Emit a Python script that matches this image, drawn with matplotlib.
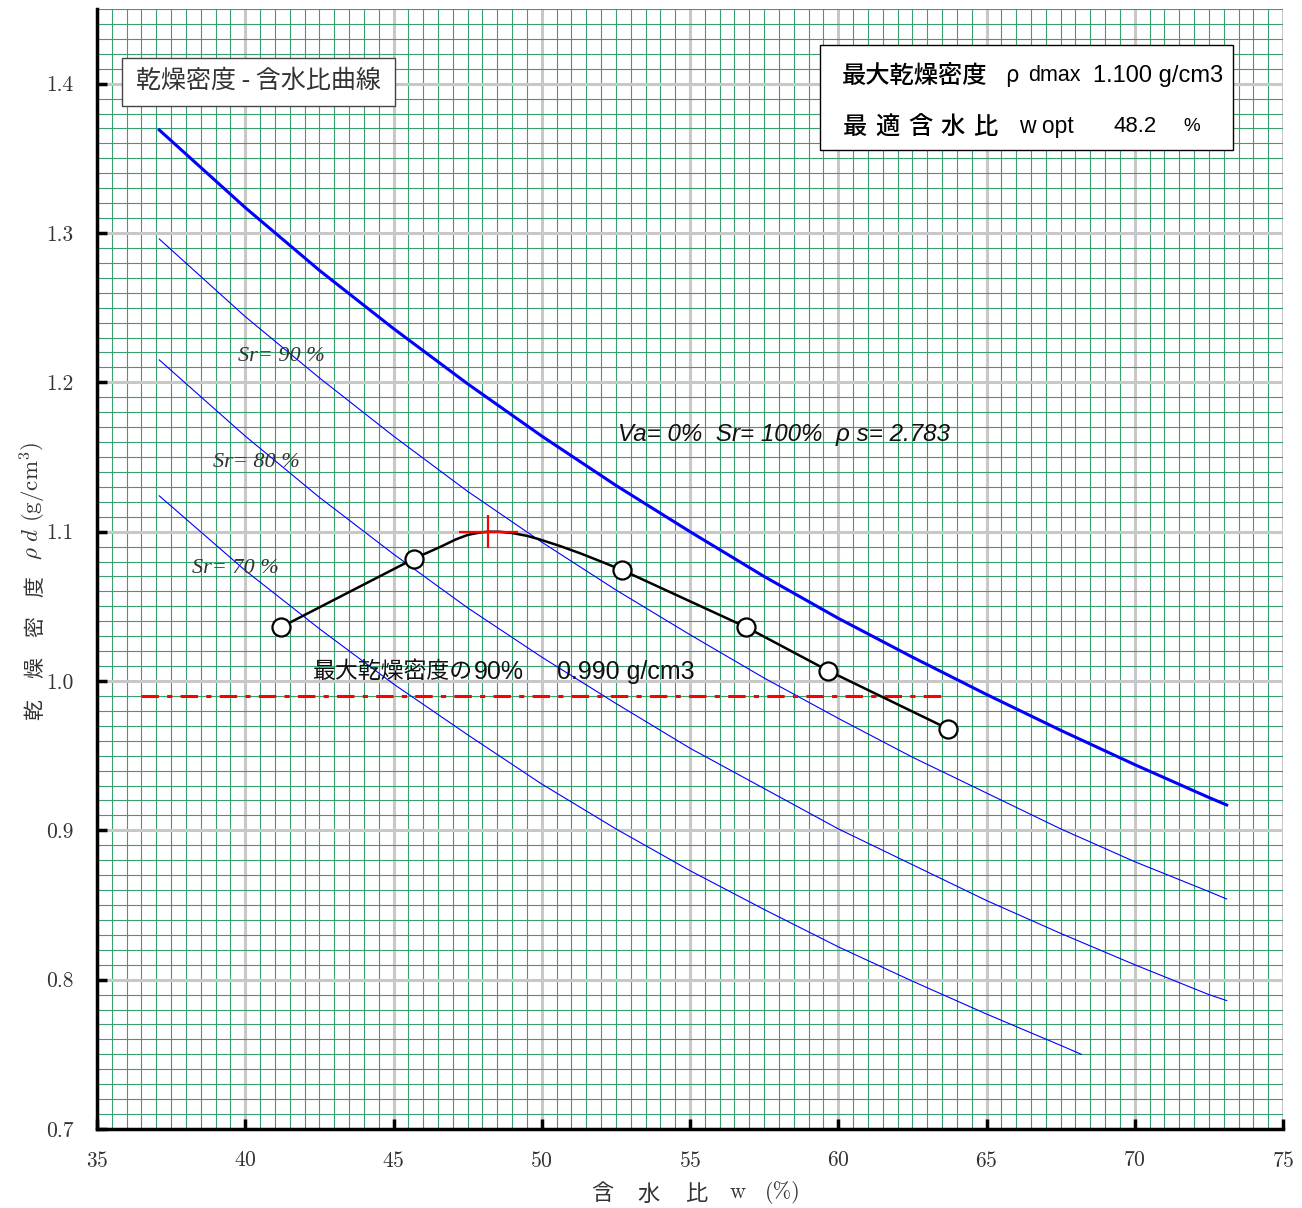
import numpy as np
import matplotlib
matplotlib.use("Agg")
import matplotlib.pyplot as plt
from matplotlib.patches import Rectangle
from matplotlib.ticker import MultipleLocator, FormatStrFormatter

plt.rcParams["font.family"] = "cmr10"
plt.rcParams["mathtext.fontset"] = "cm"
plt.rcParams["axes.formatter.use_mathtext"] = True

CJK = ["Noto Sans CJK JP"]
SANS = ["Liberation Sans", "Noto Sans CJK JP"]

# saturation curves (rho_s = 2.783)
w_sat = [37.1, 40, 42.5, 45, 47.5, 50, 52.5, 55, 57.5, 60, 62.5, 65, 67.5, 70, 72.5, 73.1]
rho_sr100 = [1.369, 1.317, 1.275, 1.236, 1.199, 1.164, 1.131, 1.100, 1.070, 1.042,
             1.016, 0.991, 0.967, 0.944, 0.922, 0.917]
rho_sr90 = [1.296, 1.244, 1.203, 1.164, 1.127, 1.093, 1.061, 1.031, 1.002, 0.975,
            0.949, 0.925, 0.901, 0.879, 0.859, 0.854]
rho_sr80 = [1.215, 1.164, 1.123, 1.085, 1.049, 1.016, 0.985, 0.955, 0.928, 0.901,
            0.877, 0.853, 0.831, 0.810, 0.790, 0.786]
w_sr70 = [37.1, 40, 42.5, 45, 47.5, 50, 52.5, 55, 57.5, 60, 62.5, 65, 67.5, 68.2]
rho_sr70 = [1.124, 1.074, 1.035, 0.998, 0.964, 0.931, 0.901, 0.873, 0.847, 0.822,
            0.799, 0.777, 0.756, 0.750]

# test points
w_test = [41.2, 45.7, 52.7, 56.9, 59.65, 63.7]
rho_test = [1.036, 1.082, 1.074, 1.036, 1.007, 0.968]

# compaction curve as drawn (smoothed around the peak)
w_curve = [41.2, 45.7, 46.6, 47.1, 47.5, 47.9, 48.2, 48.6, 49.0, 49.5, 49.9,
           50.6, 51.3, 52.0, 52.7, 56.9, 59.65, 63.7]
rho_curve = [1.036, 1.082, 1.090, 1.0948, 1.0978, 1.0994, 1.100, 1.0999, 1.0991,
             1.0972, 1.0950, 1.0905, 1.0855, 1.0800, 1.0744, 1.036, 1.007, 0.968]

w_opt = 48.2
rho_max = 1.100
rho_90 = 0.990
w_90_range = [36.5, 63.5]

fig = plt.figure(figsize=(13.02, 12.08), dpi=100)
ax = fig.add_axes([97 / 1302, 1 - 1129 / 1208, (1283 - 97) / 1302, (1129 - 9) / 1208])
ax.set_xlim(35, 75)
ax.set_ylim(0.7, 1.45)

# graph-paper grid
ax.set_axisbelow(True)
ax.xaxis.set_major_locator(MultipleLocator(5))
ax.yaxis.set_major_locator(MultipleLocator(0.1))
ax.xaxis.set_minor_locator(MultipleLocator(0.5))
ax.yaxis.set_minor_locator(MultipleLocator(0.01))
ax.grid(which="minor", color="#3a9f6e", lw=0.8)
ax.grid(which="major", color="#c8c8c8", lw=2.2)
ax.set_yticks([0.7, 0.8, 0.9, 1.0, 1.1, 1.2, 1.3, 1.4])
ax.yaxis.set_major_formatter(FormatStrFormatter("%.1f"))
ax.tick_params(which="minor", length=0)
ax.tick_params(which="major", direction="in", length=7, width=2.5, labelsize=15.5,
               labelcolor="#333333")
ax.tick_params(axis="x", pad=15.5)
ax.tick_params(axis="y", pad=17)
for s in ["top", "right"]:
    ax.spines[s].set_visible(False)
for s in ["left", "bottom"]:
    ax.spines[s].set_linewidth(2.5)

# saturation lines
ax.plot(w_sat, rho_sr100, color="#0000ff", lw=2.2, zorder=2)
ax.plot(w_sat, rho_sr90, color="#0000ff", lw=0.8, zorder=2)
ax.plot(w_sat, rho_sr80, color="#0000ff", lw=0.8, zorder=2)
ax.plot(w_sr70, rho_sr70, color="#0000ff", lw=0.8, zorder=2)

# 90% line
ax.hlines(rho_90, w_90_range[0], w_90_range[1], color="#ff0000", lw=2.2,
          linestyles=(0, (5.7, 2.7, 1.7, 2.7)), zorder=2)

# compaction curve
ax.plot(w_curve, rho_curve, color="black", lw=1.8, zorder=3)
ax.plot(w_test, rho_test, ls="none", marker="o", ms=13, mfc="white", mec="black",
        mew=1.6, zorder=4)
ax.errorbar(w_opt, rho_max, xerr=1.0, yerr=0.011, fmt="none", ecolor="#ff0000",
            elinewidth=1.6, capsize=0, zorder=3)

# labels on the curves
for x, y, t in [(39.76, 1.2171, "Sr= 90 %"), (38.91, 1.1461, "Sr= 80 %"),
                (38.2, 1.0751, "Sr= 70 %")]:
    ax.text(x, y, t, ha="left", va="center", fontsize=16, family="Liberation Serif",
            style="italic", color="#333333", zorder=5)
ax.text(52.57, 1.1648, "Va= 0%  Sr= 100%  ρ s= 2.783", ha="left", va="center",
        fontsize=17.4, family=SANS, style="italic", color="#111111", zorder=5)
ax.text(42.28, 1.0061, "最大乾燥密度の", ha="left", va="center",
        fontsize=16.5, family=CJK, color="#111111", zorder=5)
ax.text(47.71, 1.0061, "90%", ha="left", va="center",
        fontsize=18, family=SANS, color="#111111", zorder=5)
ax.text(50.51, 1.0061, "0.990 g/cm3", ha="left", va="center",
        fontsize=18, family=SANS, color="#111111", zorder=5)

# title box
ax.add_patch(Rectangle((35.84, 1.3852), 9.21, 0.0321, fc="white", ec="#444444",
                       lw=1.0, zorder=5))
ax.text(40.45, 1.4019, "乾燥密度 - 含水比曲線", ha="center", va="center",
        fontsize=18, family=CJK, color="#333333", zorder=6)

# result box
ax.add_patch(Rectangle((59.38, 1.3557), 13.93, 0.0703, fc="white", ec="black",
                       lw=1.0, zorder=5))
y1, y2 = 1.4053, 1.3711
ax.text(60.13, y1, "最大乾燥密度", ha="left", va="center", fontsize=17.5,
        family=CJK, fontweight="medium", zorder=6)
ax.text(65.62, y1, "ρ", ha="left", va="center", fontsize=16, family=CJK,
        style="italic", zorder=6)
ax.text(66.40, y1, "dmax", ha="left", va="center", fontsize=15.5, family=SANS, zorder=6)
ax.text(68.59, y1, "1.100 g/cm3", ha="left", va="center", fontsize=17, family=SANS,
        zorder=6)
for x, c in zip([60.57, 61.67, 62.76, 63.84, 64.95], "最適含水比"):
    ax.text(x, y2, c, ha="center", va="center", fontsize=17.5, family=CJK,
            fontweight="medium", zorder=6)
ax.text(66.10, y2, "w opt", ha="left", va="center", fontsize=16.5, family=SANS, zorder=6)
ax.text(69.30, y2, "48.2", ha="left", va="center", fontsize=16, family=SANS, zorder=6)
ax.text(71.63, y2, "%", ha="left", va="center", fontsize=13.5, family=SANS, zorder=6)

# axis titles
W, H = 1302, 1208
for px, c in zip([602, 649, 696], "含水比"):
    fig.text(px / W, 1 - 1194 / H, c, ha="center", va="center", fontsize=16,
             family=CJK, color="#333333")
fig.text(738 / W, 1 - 1192 / H, "w", ha="center", va="center", fontsize=16, color="#333333")
fig.text(783 / W, 1 - 1193 / H, "(%)", ha="center", va="center", fontsize=16, color="#333333")

for py, c in zip([710, 668, 627, 587], "乾燥密度"):
    fig.text(35 / W, 1 - py / H, c, ha="center", va="center", fontsize=15,
             family=CJK, rotation=90, color="#333333")
fig.text(33 / W, 1 - 501 / H, r"$\rho\ d$ (g/cm$^3$)", ha="center", va="center",
         fontsize=16.5, rotation=90, color="#333333")

fig.savefig("out.png", dpi=100)
